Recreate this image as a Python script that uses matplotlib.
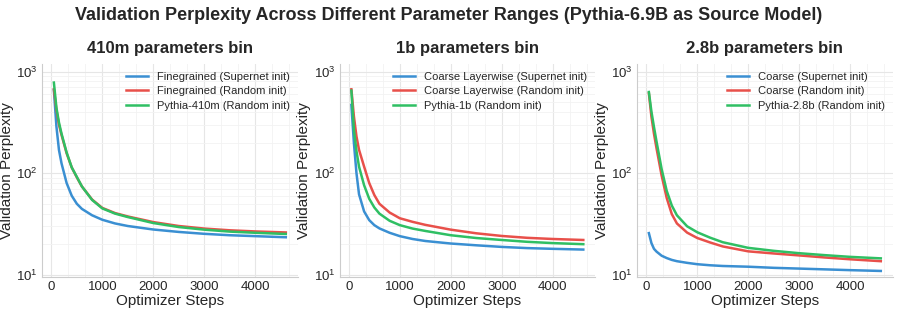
import numpy as np
import matplotlib
matplotlib.use("Agg")
import matplotlib.pyplot as plt

plt.rcParams['font.family'] = ['Liberation Sans', 'DejaVu Sans']
plt.rcParams['text.color'] = '#262626'
plt.rcParams['axes.labelcolor'] = '#262626'
plt.rcParams['xtick.color'] = '#262626'
plt.rcParams['ytick.color'] = '#262626'

steps = [50, 100, 150, 200, 300, 400, 500, 600, 800, 1000, 1250, 1500, 2000, 2500, 3000, 3500, 4000, 4600]

# 410m bin
fine_super = [660, 288, 169, 125, 80, 60, 50, 44.5, 38.5, 34.8, 32.0, 30.2, 27.9, 26.4, 25.3, 24.5, 24.0, 23.4]
fine_random = [670, 420, 300, 238, 157, 114, 91, 74, 55, 45.5, 40.5, 37.5, 33.0, 30.2, 28.5, 27.4, 26.7, 26.1]
pythia_410m = [780, 440, 315, 245, 160, 114, 92, 74, 54.5, 45.0, 40.0, 37.0, 32.3, 29.5, 27.8, 26.6, 25.9, 25.2]

# 1b bin
coarse_lw_super = [470, 197, 100, 62, 42, 34.5, 30.8, 28.6, 25.9, 24.0, 22.5, 21.5, 20.3, 19.5, 18.8, 18.3, 18.0, 17.7]
coarse_lw_random = [670, 361, 230, 170, 116, 80, 61, 50, 41, 36.0, 33.2, 31.0, 27.8, 25.6, 24.1, 23.1, 22.5, 22.0]
pythia_1b = [650, 267, 165, 116, 76, 56, 46, 40, 34, 30.8, 28.5, 27.0, 24.5, 23.0, 22.0, 21.1, 20.5, 20.0]

# 2.8b bin
coarse_super = [25.7, 20.5, 18.0, 16.9, 15.4, 14.6, 14.0, 13.6, 13.1, 12.7, 12.4, 12.2, 12.0, 11.7, 11.5, 11.3, 11.1, 10.9]
coarse_random = [612, 360, 245, 176, 95, 57, 39.5, 32, 26, 23.0, 20.8, 19.0, 17.0, 16.2, 15.5, 14.8, 14.2, 13.6]
pythia_28b = [630, 404, 285, 205, 110, 67, 48, 38.5, 30, 26.2, 23.2, 20.9, 18.4, 17.2, 16.3, 15.6, 15.0, 14.5]

titles = ["410m parameters bin", "1b parameters bin", "2.8b parameters bin"]
series = [
    [("Finegrained (Supernet init)", fine_super),
     ("Finegrained (Random init)", fine_random),
     ("Pythia-410m (Random init)", pythia_410m)],
    [("Coarse Layerwise (Supernet init)", coarse_lw_super),
     ("Coarse Layerwise (Random init)", coarse_lw_random),
     ("Pythia-1b (Random init)", pythia_1b)],
    [("Coarse (Supernet init)", coarse_super),
     ("Coarse (Random init)", coarse_random),
     ("Pythia-2.8b (Random init)", pythia_28b)],
]
colors = ['#3a8fd2', '#e8504a', '#2fbf63']

fig, axes = plt.subplots(1, 3, figsize=(8.97, 3.09), dpi=100)
fig.subplots_adjust(left=0.047, right=0.995, top=0.793, bottom=0.105, wspace=0.165)
fig.suptitle("Validation Perplexity Across Different Parameter Ranges (Pythia-6.9B as Source Model)",
             fontsize=13, fontweight='bold', y=0.978)

for ax, title, group in zip(axes, titles, series):
    for (label, vals), c in zip(group, colors):
        ax.plot(steps, vals, color=c, lw=1.8, label=label)
    ax.set_yscale('log')
    ax.set_ylim(9.6, 1190)
    ax.set_xlim(-180, 4830)
    ax.set_xticks([0, 1000, 2000, 3000, 4000])
    ax.set_title(title, fontsize=12, fontweight='bold', pad=8)
    ax.set_xlabel("Optimizer Steps", fontsize=11, labelpad=1)
    ax.set_ylabel("Validation Perplexity", fontsize=11, labelpad=2)
    ax.tick_params(labelsize=9.5, length=0, pad=3)
    ax.tick_params(which='minor', length=0)
    ax.xaxis.set_minor_locator(matplotlib.ticker.AutoMinorLocator(3))
    ax.grid(True, which='major', color='#e6e6e6', lw=0.8)
    ax.grid(True, which='minor', color='#f2f2f2', lw=0.6)
    ax.set_axisbelow(True)
    for s in ['top', 'right']:
        ax.spines[s].set_visible(False)
    for s in ['left', 'bottom']:
        ax.spines[s].set_color('#cccccc')
        ax.spines[s].set_linewidth(0.8)
    ax.legend(loc='upper right', fontsize=8, frameon=False, handlelength=2.0,
              borderaxespad=0.3, labelspacing=0.4)

fig.savefig("out.png", dpi=100)
